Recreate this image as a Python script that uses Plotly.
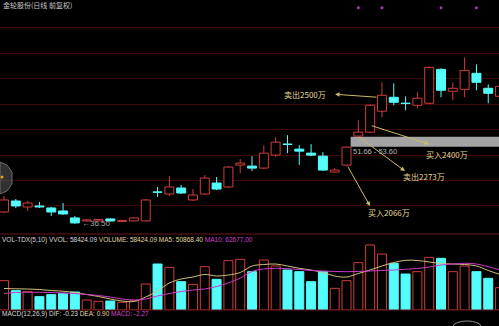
import plotly.graph_objects as go

# ---------------- data ----------------
idx = list(range(43))
opens = [38.82, 40.98, 39.80, 40.00, 39.61, 39.02, 37.65, 37.06, 37.06, 37.45,
         36.96, 37.06, 37.06, 42.75, 42.35, 43.53, 41.18, 42.35, 44.51, 43.73,
         48.04, 47.84, 47.45, 50.00, 52.16, 51.18, 50.39, 49.80, 46.67, 48.04,
         53.75, 54.51, 58.63, 61.37, 60.20, 59.80, 60.20, 66.86, 62.55, 62.94,
         66.08, 63.14, 61.57]
highs = [41.96, 41.37, 40.98, 40.78, 39.80, 40.59, 38.04, 37.45, 37.45, 37.55,
         37.25, 37.84, 41.37, 43.73, 45.88, 44.12, 43.33, 46.08, 45.69, 47.84,
         49.22, 49.80, 51.96, 53.53, 53.92, 51.96, 52.16, 50.59, 47.45, 51.66,
         56.86, 60.00, 64.31, 64.12, 61.57, 62.35, 67.45, 67.06, 64.31, 69.22,
         67.84, 63.92, 64.31]
lows = [38.63, 39.61, 39.02, 39.61, 38.04, 38.24, 36.50, 36.96, 36.96, 36.96,
        36.90, 36.96, 36.96, 41.76, 41.96, 42.35, 40.98, 42.16, 43.14, 43.53,
        46.47, 46.86, 47.25, 49.61, 50.39, 48.04, 49.80, 46.86, 46.57, 47.84,
        53.60, 54.31, 57.45, 59.80, 58.82, 59.22, 60.00, 61.37, 60.78, 61.37,
        62.75, 60.20, 61.37]
closes = [41.18, 40.00, 40.59, 39.80, 38.82, 38.43, 36.67, 37.25, 37.35, 37.06,
          37.16, 37.65, 41.18, 42.69, 43.73, 42.55, 42.16, 45.49, 43.33, 47.65,
          48.43, 47.45, 50.39, 52.55, 52.10, 50.78, 50.00, 47.06, 47.06, 51.57,
          54.51, 59.80, 61.76, 60.39, 60.14, 61.18, 67.25, 62.75, 63.14, 66.67,
          64.31, 62.16, 63.53]
volumes = [44000, 29000, 27500, 20000, 23000, 25000, 27000, 15000, 13000, 13500,
           11500, 14000, 39000, 69000, 64000, 42500, 38500, 65000, 46000, 74000,
           76000, 57500, 75000, 66000, 60000, 57500, 42500, 57500, 32500, 44000,
           71000, 97500, 84000, 70000, 54000, 57500, 79000, 77500, 57500, 66000,
           57500, 47500, 33500]
ma5 = [32250, 31800, 31500, 30750, 29250, 28200, 26250, 23250, 20250, 16500,
       13500, 12750, 19500, 28500, 40500, 46500, 49500, 53250, 51000, 52500,
       56250, 66000, 68250, 69000, 66000, 62550, 60000, 56250, 51000, 49500,
       54750, 60000, 66000, 71250, 74550, 74250, 72000, 69750, 69000, 68250,
       66000, 59250, 53250]
ma10 = [24750, 26250, 26550, 26550, 26250, 25500, 24750, 23250, 21750, 19500,
        16500, 15000, 16500, 21000, 24750, 27750, 30000, 31500, 35250, 40500,
        48000, 57750, 61500, 62550, 61950, 60750, 59250, 58500, 57750, 57450,
        57750, 58500, 59250, 60000, 61050, 62250, 64500, 67500, 69000, 70050,
        69000, 64950, 60000]
grid_levels = [40, 45, 50, 55, 60, 65, 70, 75]
gap_low, gap_high = 51.66, 53.60
low_price = 36.50
mark_idx = [30, 32, 37, 40]
mark_price = [79.0, 79.0, 79.0, 79.0]

title_text = "金轮股份(日线 前复权)"
vol_header = ("VOL-TDX(5,10) VVOL: 58424.09 ", "VOLUME: 58424.09 ",
              "MA5: 50868.40 ", "MA10: 62677.00")
macd_header = ("MACD(12,26,9) DIF: -0.23 ", "DEA: 0.90 ", "MACD: -2.27")

# trade notes: (label, tail_idx, tail_price, head_idx, head_price, text_idx, text_price)
notes = [
    ("卖出2500万", 31.67, 61.37, 28.03, 61.96, 25.5, 61.96),
    ("买入2400万", 31.0, 55.88, 35.99, 52.16, 37.51, 50.20),
    ("卖出2273万", 29.97, 53.73, 33.95, 46.86, 35.56, 45.88),
    ("买入2066万", 29.04, 48.04, 30.99, 40.00, 32.56, 38.63),
]

# ---------------- styling ----------------
RED = '#d03c3c'
CYAN = '#54fcfc'
BG = '#000000'
GRID = '#3c0808'
SEP = '#701616'
NOTE = '#e4da98'
ARROW = '#c8bc6a'
MA5C = '#cfc27c'
MA10C = '#c83cc8'

up = [c >= o for o, c in zip(opens, closes)]
body_base = [min(o, c) for o, c in zip(opens, closes)]
body_h = [max(abs(c - o), 0.08) for o, c in zip(opens, closes)]
fill = [BG if u else CYAN for u in up]
edge = [RED if u else CYAN for u in up]

wrx, wry, wcx, wcy = [], [], [], []
for i, o, h, l, c, u in zip(idx, opens, highs, lows, closes, up):
    top, bot = max(o, c), min(o, c)
    if u:
        wrx += [i, i, None, i, i, None]
        wry += [h, top, None, bot, l, None]
    else:
        wcx += [i, i, None]
        wcy += [h, l, None]

fig = go.Figure()
fig.add_trace(go.Bar(x=idx, y=body_h, base=body_base, width=0.76,
                     marker=dict(color=fill, line=dict(color=edge, width=1)),
                     xaxis='x', yaxis='y', hoverinfo='skip'))
fig.add_trace(go.Scatter(x=wrx, y=wry, mode='lines', line=dict(color=RED, width=1),
                         xaxis='x', yaxis='y', hoverinfo='skip'))
fig.add_trace(go.Scatter(x=wcx, y=wcy, mode='lines', line=dict(color=CYAN, width=1),
                         xaxis='x', yaxis='y', hoverinfo='skip'))
fig.add_trace(go.Scatter(x=mark_idx, y=mark_price, mode='markers',
                         marker=dict(color='#a040a8', size=3),
                         xaxis='x', yaxis='y', hoverinfo='skip'))

vfill = [BG if u else CYAN for u in up]
fig.add_trace(go.Bar(x=idx, y=volumes, width=0.76,
                     marker=dict(color=vfill, line=dict(color=edge, width=1)),
                     xaxis='x2', yaxis='y2', hoverinfo='skip'))
fig.add_trace(go.Scatter(x=idx, y=ma5, mode='lines', line=dict(color=MA5C, width=1, shape='spline'),
                         xaxis='x2', yaxis='y2', hoverinfo='skip'))
fig.add_trace(go.Scatter(x=idx, y=ma10, mode='lines', line=dict(color=MA10C, width=1, shape='spline'),
                         xaxis='x2', yaxis='y2', hoverinfo='skip'))

W, H = 499, 326
def py(p):
    return 1 - p / H
def px(p):
    return p / W

xr = [-0.339, 41.91]
fig.update_layout(
    width=W, height=H, margin=dict(l=0, r=0, t=0, b=0),
    paper_bgcolor=BG, plot_bgcolor=BG, showlegend=False, barmode='overlay',
    xaxis=dict(domain=[0, 1], range=xr, showgrid=False, showticklabels=False,
               zeroline=False, ticks='', anchor='y'),
    xaxis2=dict(domain=[0, 1], range=xr, showgrid=False, showticklabels=False,
                zeroline=False, ticks='', anchor='y2', matches='x'),
    yaxis=dict(domain=[py(234), 1], range=[34.49, 80.50], tickvals=grid_levels,
               showgrid=True, gridcolor=GRID, gridwidth=1, showticklabels=False,
               zeroline=False, ticks=''),
    yaxis2=dict(domain=[py(310), py(234)], range=[0, 114000], showgrid=False,
                showticklabels=False, zeroline=False, ticks=''),
)

shapes = []
# gap band
shapes.append(dict(type='rect', xref='x', yref='y', x0=29.35, x1=43, y0=gap_low, y1=gap_high,
                   fillcolor='#a4a4a4', line=dict(width=0), layer='between'))
# panel separators
for yy in (234, 310):
    shapes.append(dict(type='line', xref='paper', yref='paper', x0=0, x1=1, y0=py(yy), y1=py(yy),
                       line=dict(color=SEP, width=1)))
# left cursor handle
pts = [(0, 162), (7, 165), (12, 172), (12, 184), (7, 191), (0, 194)]
path = 'M ' + ' L '.join(f'{px(a):.5f} {py(b):.5f}' for a, b in pts) + ' Z'
shapes.append(dict(type='path', xref='paper', yref='paper', path=path,
                   fillcolor='rgba(90,90,90,0.55)', line=dict(color='#6a6a6a', width=1)))
shapes.append(dict(type='circle', xref='paper', yref='paper', x0=px(0.5), x1=px(3.5),
                   y0=py(178.5), y1=py(175.5), fillcolor='#e0a020', line=dict(width=0)))
# bottom-right element
shapes.append(dict(type='circle', xref='paper', yref='paper', x0=px(453), x1=px(481),
                   y0=py(332), y1=py(321), line=dict(color='#8c8c8c', width=1)))
fig.update_layout(shapes=shapes)

ann = []
for label, tx, ty, hx, hy, lx, ly in notes:
    ann.append(dict(x=hx, y=hy, ax=tx, ay=ty, xref='x', yref='y', axref='x', ayref='y',
                    text='', showarrow=True, arrowhead=2, arrowsize=0.9, arrowwidth=1,
                    arrowcolor=ARROW, standoff=0, startstandoff=0))
    ann.append(dict(x=lx, y=ly, xref='x', yref='y', text=label, showarrow=False,
                    font=dict(family='Noto Sans CJK SC', size=8, color=NOTE)))
ann.append(dict(x=6.4, y=low_price, xref='x', yref='y', text='←36.50', showarrow=False,
                xanchor='left', yanchor='middle',
                font=dict(family='Liberation Sans', size=8, color='#a8a8a8')))
ann.append(dict(x=29.4, y=(gap_low - 1.0), xref='x', yref='y', text=f'{gap_low:.2f} - {gap_high:.2f}',
                showarrow=False, xanchor='left', yanchor='middle',
                font=dict(family='Liberation Sans', size=7.5, color='#b4b4b4')))
ann.append(dict(x=0.002, y=py(5), xref='paper', yref='paper', text=title_text, showarrow=False,
                xanchor='left', yanchor='middle',
                font=dict(family='Noto Sans CJK SC', size=7, color='#c8c8c8')))
vh = (f'<span style="color:#d8d8d8">{vol_header[0]}</span>'
      f'<span style="color:#e0d8a0">{vol_header[1]}</span>'
      f'<span style="color:#e0d8a0">{vol_header[2]}</span>'
      f'<span style="color:#d040d0">{vol_header[3]}</span>')
ann.append(dict(x=0.0, y=py(239.5), xref='paper', yref='paper', text=vh, showarrow=False,
                xanchor='left', yanchor='middle',
                font=dict(family='Liberation Sans', size=6.5, color='#d8d8d8')))
mh = (f'<span style="color:#d8d8d8">{macd_header[0]}</span>'
      f'<span style="color:#e0d8a0">{macd_header[1]}</span>'
      f'<span style="color:#d040d0">{macd_header[2]}</span>')
ann.append(dict(x=0.0, y=py(313.5), xref='paper', yref='paper', text=mh, showarrow=False,
                xanchor='left', yanchor='middle',
                font=dict(family='Liberation Sans', size=6.5, color='#d8d8d8')))
fig.update_layout(annotations=ann)

fig.write_html('out.html')
